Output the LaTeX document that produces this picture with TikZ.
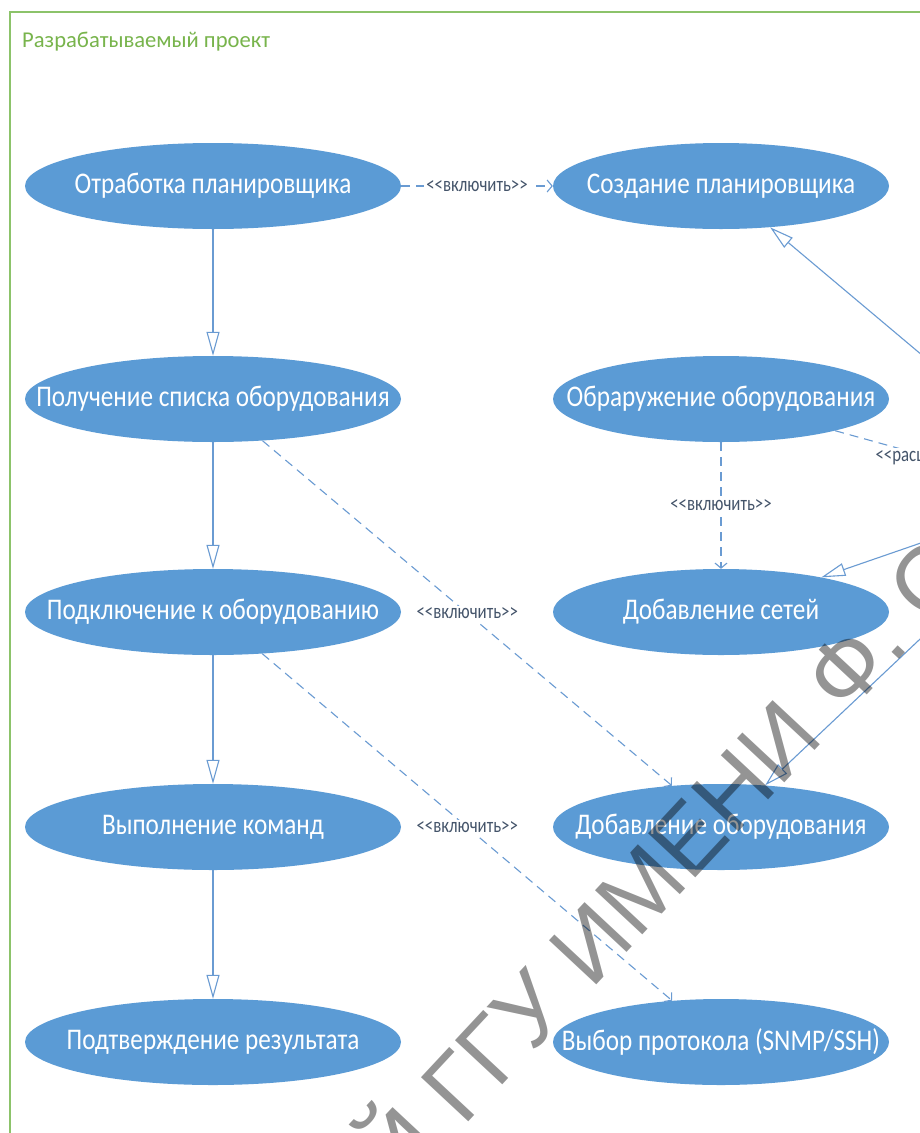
\documentclass[tikz,border=0pt]{standalone}
\usepackage{fontspec}
\setmainfont{Carlito}
\newfontfamily\ucfont[FakeStretch=0.84]{Carlito}
\newfontfamily\lblfontfam[FakeStretch=0.8]{Carlito}
\newfontfamily\wmfont{Liberation Sans}
\usetikzlibrary{arrows.meta,shapes.geometric}
\definecolor{ucblue}{HTML}{5B9BD5}
\definecolor{lnblue}{HTML}{6A9BD2}
\definecolor{lblc}{HTML}{44546A}
\definecolor{frgreen}{HTML}{8CC36A}
\definecolor{ttgreen}{HTML}{78B44C}
\newcommand\llq{<\kern0pt<}
\newcommand\rrq{>\kern0pt>}
\newcommand\uctext[1]{\makebox[0pt][c]{#1}}
\begin{document}
\begin{tikzpicture}[x=1pt,y=-1pt,
  uc/.style={ellipse, fill=ucblue, minimum width=376pt, minimum height=86pt, inner sep=0pt, text=white, font=\ucfont\fontsize{30}{34}\selectfont},
  ucr/.style={uc, minimum width=336pt},
  gen/.style={draw=lnblue, line width=1.1pt, -{Triangle[open,length=24pt,width=13pt]}},
  inc/.style={draw=lnblue, line width=1.1pt, dash pattern=on 9pt off 6pt, -{Straight Barb[length=5pt,width=12pt]}},
  lbl/.style={fill=white, text=lblc, font=\lblfontfam\fontsize{21}{24}\selectfont, inner sep=2pt},
  wm/.style={text=black, opacity=0.42, font=\wmfont\fontsize{94}{100}\selectfont, rotate=47, inner sep=0pt}]
\useasboundingbox (0,0) rectangle (920,1133);
\clip (0,0) rectangle (920,1133);
\fill[white] (0,0) rectangle (920,1133);
\draw[frgreen, line width=1.2pt] (10,12) rectangle (1300,1300);
\node[anchor=base west, text=ttgreen, font=\fontsize{22.6}{26}\selectfont, inner sep=0pt] (title) at (22,47) {Разрабатываемый проект};

\node[uc] (otr) at (213,186) {\uctext{Отработка планировщика}};
\node[uc] (pol) at (213,399) {\uctext{Получение списка оборудования}};
\node[uc] (pod) at (213,612) {\uctext{Подключение к оборудованию}};
\node[uc] (vyp) at (213,827) {\uctext{Выполнение команд}};
\node[uc] (ptv) at (213,1042) {\uctext{Подтверждение результата}};

\node[ucr] (soz) at (721,186) {\uctext{Создание планировщика}};
\node[ucr] (obr) at (721,399) {\uctext{Обраружение оборудования}};
\node[ucr] (dset) at (721,612) {\uctext{Добавление сетей}};
\node[ucr] (dob) at (721,827) {\uctext{Добавление оборудования}};
\node[ucr] (vyb) at (721,1042) {\uctext{Выбор протокола (SNMP/SSH)}};

\coordinate (actor) at (1080,488);
\coordinate (ext) at (1027,484);

\draw[gen] (otr) -- (pol);
\draw[gen] (pol) -- (pod);
\draw[gen] (pod) -- (vyp);
\draw[gen] (vyp) -- (ptv);

\draw[inc] (otr) -- node[lbl] {\llq включить\rrq} (soz);
\draw[inc] (pol) -- node[lbl] {\llq включить\rrq} (dob);
\draw[inc] (pod) -- node[lbl] {\llq включить\rrq} (vyb);
\draw[inc] (obr) -- node[lbl] {\llq включить\rrq} (dset);
\draw[inc] (obr) -- node[lbl] {\llq расширить\rrq} (ext);

\draw[gen] (actor) -- (soz);
\draw[gen] (actor) -- (dset);
\draw[gen] (actor) -- (dob);

\node[wm, anchor=base west] (wm1) at (845,718) {Ф. СКОРИНЫ};
\node[wm, anchor=base east] (wm0) at (wm1.base west) {РЕПОЗИТОРИЙ ГГУ ИМЕНИ\kern0.3em};
\end{tikzpicture}
\end{document}
